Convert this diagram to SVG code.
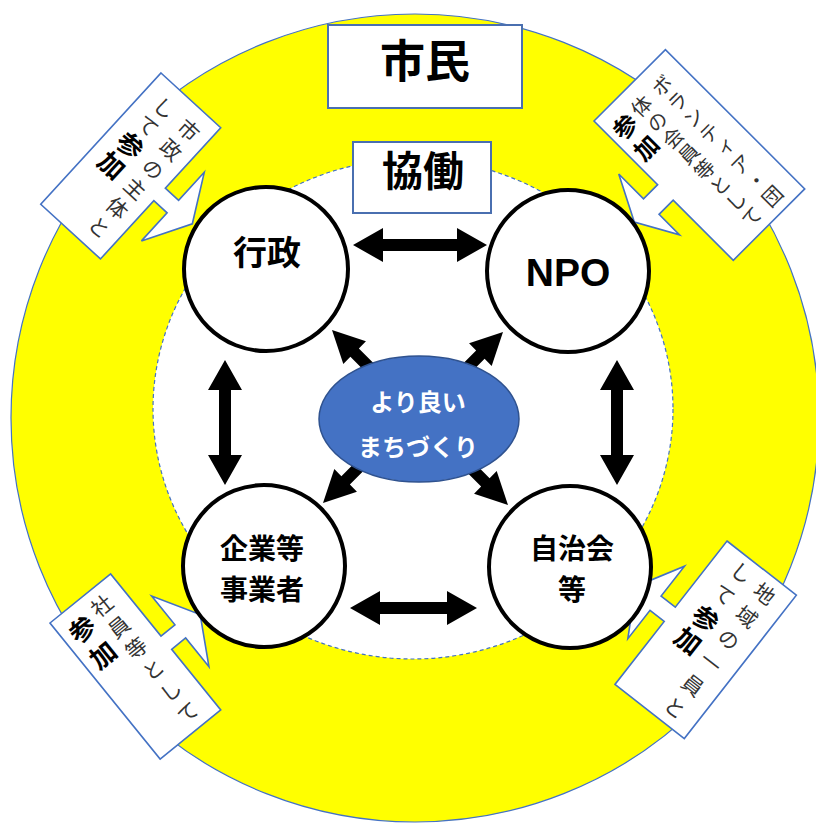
<svg xmlns="http://www.w3.org/2000/svg" width="816" height="826" viewBox="0 0 816 826">
<defs>
<style>
.callout{fill:#fff;stroke:#4472C4;stroke-width:1.6}
.ct{font-family:"Noto Sans CJK JP","Noto Sans",sans-serif;font-size:21px;fill:#333;writing-mode:vertical-rl}
.cb{font-weight:700;fill:#000;font-size:26px}
.ncirc{fill:#fff;stroke:#000;stroke-width:4}
.lbl{font-family:"Noto Sans CJK JP","Noto Sans",sans-serif;font-weight:700;text-anchor:middle;fill:#000}
.box{fill:#fff;stroke:#4a6fb0;stroke-width:2}
.arr{fill:#000}
</style>
<path id="dArrow" d="M0,0 L-32,-16 V-6 H-90 V6 H-32 V16 Z"/>
</defs>

<g id="background">
<circle cx="415" cy="418" r="404" fill="#FFFF00" stroke="#4472C4" stroke-width="1.2"/>
<ellipse cx="413" cy="409" rx="260" ry="250" fill="#fff" stroke="#4472C4" stroke-width="1.2" stroke-dasharray="4,3"/>
</g>

<g id="shimin">
<rect class="box" x="328" y="25" width="194" height="83"/>
<text class="lbl" x="425" y="78" font-size="45">市民</text>
</g>

<g id="kyodo">
<rect class="box" x="353" y="142" width="138" height="71"/>
<text class="lbl" x="423" y="186" font-size="41">協働</text>
</g>

<g id="callout-tl" transform="translate(161,73) rotate(42.5)">
<path class="callout" d="M0,0 H81 V82 H99 V44 L125,90 L99,137 V99 H81 V178 H0 Z"/>
<text class="ct" x="59" y="13" style="letter-spacing:5.4px">市政の主体と</text>
<text class="ct" x="26" y="13" style="letter-spacing:3px">して<tspan class="cb" style="letter-spacing:1.4px">参加</tspan></text>
</g>

<g id="callout-tr" transform="translate(594,121) rotate(-45)">
<path class="callout" d="M0,0 H101 V197 H0 V112 H-20 V141 L-43,100 L-20,55 V90 H0 Z"/>
<text class="ct" x="73" y="13" style="font-size:20px;letter-spacing:2.3px">ボランティア・団</text>
<text class="ct" x="44" y="13" style="font-size:20px;letter-spacing:2.3px">体の会員等として</text>
<text class="ct" x="18" y="14" style="letter-spacing:6px"><tspan class="cb" style="font-size:24px">参加</tspan></text>
</g>

<g id="callout-bl" transform="translate(50,623) rotate(-39)">
<path class="callout" d="M0,0 H78 V80 H96 V43 L122,88 L96,134 V97 H78 V175 H0 Z"/>
<text class="ct" x="51" y="8.5" style="letter-spacing:6.4px">社員等として</text>
<text class="ct" x="21" y="12" style="letter-spacing:7px"><tspan class="cb">参加</tspan></text>
</g>

<g id="callout-br" transform="translate(727,541) rotate(38)">
<path class="callout" d="M0,0 H88 V182 H0 V102 H-18 V138 L-44,92 L-18,46 V84 H0 Z"/>
<text class="ct" x="62" y="8" style="letter-spacing:8px">地域の一員と</text>
<text class="ct" x="31" y="5.5" style="letter-spacing:7px">して<tspan class="cb" style="letter-spacing:2px">参加</tspan></text>
</g>

<g id="node-gyosei">
<circle class="ncirc" cx="266" cy="269" r="82"/>
<text class="lbl" x="267" y="265" font-size="34">行政</text>
</g>
<g id="node-npo">
<circle class="ncirc" cx="568" cy="271" r="81"/>
<text class="lbl" x="568" y="286" font-size="39" style="font-family:'Liberation Sans',Arial,sans-serif">NPO</text>
</g>
<g id="node-kigyo">
<circle class="ncirc" cx="264" cy="566" r="81"/>
<text class="lbl" font-size="28"><tspan x="262" y="559">企業等</tspan><tspan x="262" y="600">事業者</tspan></text>
</g>
<g id="node-jichikai">
<circle class="ncirc" cx="570" cy="567" r="81"/>
<text class="lbl" font-size="28"><tspan x="572" y="559">自治会</tspan><tspan x="572" y="600">等</tspan></text>
</g>

<g id="connectors">
<path class="arr" d="M353,245 L383,228 V239 H457 V228 L487,245 L457,262 V251 H383 V262 Z"/>
<path class="arr" d="M350,608 L380,591 V602 H447 V591 L477,608 L447,625 V614 H380 V625 Z"/>
<path class="arr" d="M225,360 L242,390 H231 V455 H242 L225,485 L208,455 H219 V390 H208 Z"/>
<path class="arr" d="M617,360 L634,390 H623 V455 H634 L617,485 L600,455 H611 V390 H600 Z"/>
<use href="#dArrow" class="arr" transform="translate(332,330) rotate(225)"/>
<use href="#dArrow" class="arr" transform="translate(503,332) rotate(-45)"/>
<use href="#dArrow" class="arr" transform="translate(323,503) rotate(135)"/>
<use href="#dArrow" class="arr" transform="translate(508,505) rotate(45)"/>
</g>

<g id="node-center">
<ellipse cx="419" cy="419" rx="100" ry="63" fill="#4472C4" stroke="#2F528F" stroke-width="1.5"/>
<text class="lbl" font-size="24" style="fill:#fff"><tspan x="418" y="411">より良い</tspan><tspan x="418" y="456">まちづくり</tspan></text>
</g>
</svg>
